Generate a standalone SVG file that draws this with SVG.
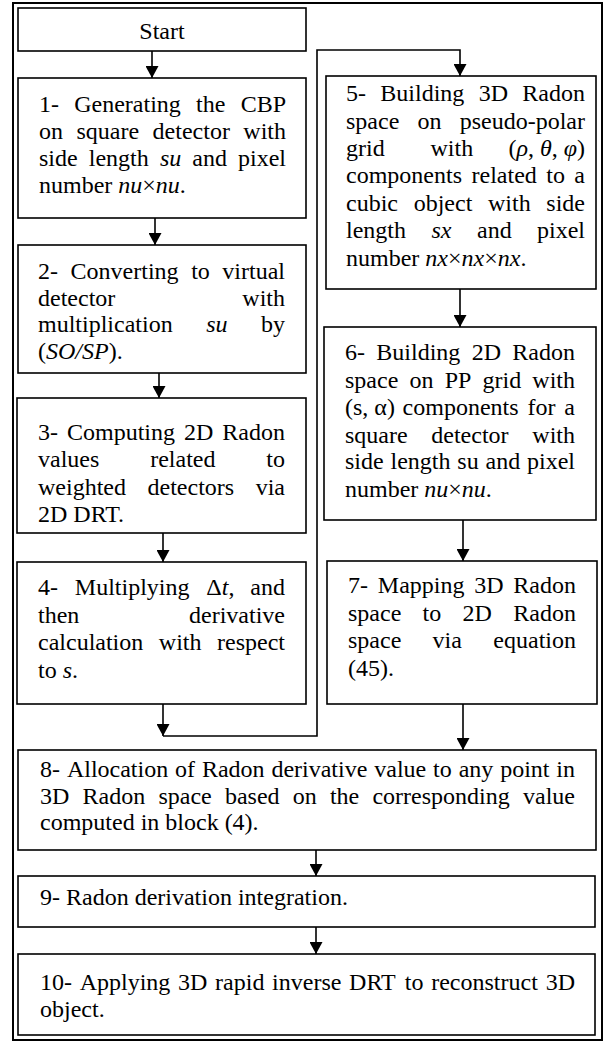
<svg xmlns="http://www.w3.org/2000/svg" width="612" height="1042" viewBox="0 0 612 1042">
<style>
text{font-family:"Liberation Serif","Times New Roman",serif;font-size:24px;fill:#000}
.i{font-style:italic}
.e{text-anchor:end}
.box{fill:#fff;stroke:#000;stroke-width:1.6}
.c{fill:none;stroke:#000;stroke-width:1.6}
</style>
<defs>
<marker id="ah" markerUnits="userSpaceOnUse" markerWidth="13" markerHeight="13" refX="12" refY="6.5" orient="auto"><path d="M0,0 L12,6.5 L0,13 z" fill="#000"/></marker>
</defs>
<rect x="0" y="0" width="612" height="1042" fill="#fff"/>
<rect x="13" y="3" width="589" height="1037" fill="none" stroke="#000" stroke-width="2"/>
<g id="connectors">
<line class="c" x1="152" y1="51" x2="152" y2="78" marker-end="url(#ah)"/>
<line class="c" x1="155" y1="218" x2="155" y2="245" marker-end="url(#ah)"/>
<line class="c" x1="159" y1="373" x2="159" y2="398" marker-end="url(#ah)"/>
<line class="c" x1="163" y1="533" x2="163" y2="562" marker-end="url(#ah)"/>
<line class="c" x1="163" y1="704" x2="163" y2="736" marker-end="url(#ah)"/>
<polyline class="c" points="163,736 317,736 317,50 460,50 460,76" marker-end="url(#ah)"/>
<line class="c" x1="460" y1="289" x2="460" y2="327" marker-end="url(#ah)"/>
<line class="c" x1="463" y1="520" x2="463" y2="561" marker-end="url(#ah)"/>
<line class="c" x1="463" y1="704" x2="463" y2="750" marker-end="url(#ah)"/>
<line class="c" x1="316" y1="850" x2="316" y2="876" marker-end="url(#ah)"/>
<line class="c" x1="316" y1="927" x2="316" y2="954" marker-end="url(#ah)"/>
</g>
<g id="start">
<rect class="box" x="18" y="8" width="288" height="43"/>
<text x="162" y="39" text-anchor="middle">Start</text>
</g>
<g id="n1">
<rect class="box" x="18" y="78" width="288" height="140"/>
<text y="112"><tspan x="39">1-</tspan><tspan x="74.2">Generating</tspan><tspan x="196.1">the</tspan><tspan x="286" class="e">CBP</tspan></text>
<text y="139"><tspan x="39">on</tspan><tspan x="76.5">square</tspan><tspan x="152.6">detector</tspan><tspan x="286" class="e">with</tspan></text>
<text y="166"><tspan x="39">side</tspan><tspan x="88.8">length</tspan><tspan x="159.9" class="i">su</tspan><tspan x="192.3">and</tspan><tspan x="286" class="e">pixel</tspan></text>
<text x="39" y="193">number <tspan class="i">nu</tspan>×<tspan class="i">nu</tspan>.</text>
</g>
<g id="n2">
<rect class="box" x="18" y="245" width="288" height="128"/>
<text y="279"><tspan x="38">2-</tspan><tspan x="70.6">Converting</tspan><tspan x="191.2">to</tspan><tspan x="285" class="e">virtual</tspan></text>
<text y="305.5"><tspan x="38">detector</tspan><tspan x="285" class="e">with</tspan></text>
<text y="332"><tspan x="38">multiplication</tspan><tspan x="206.2" class="i">su</tspan><tspan x="285" class="e">by</tspan></text>
<text x="38" y="358.5">(<tspan class="i">SO/SP</tspan>).</text>
</g>
<g id="n3">
<rect class="box" x="17" y="398" width="289" height="135"/>
<text y="440"><tspan x="38">3-</tspan><tspan x="67">Computing</tspan><tspan x="184">2D</tspan><tspan x="285" class="e">Radon</tspan></text>
<text y="467"><tspan x="38">values</tspan><tspan x="150.2">related</tspan><tspan x="285" class="e">to</tspan></text>
<text y="494.5"><tspan x="38">weighted</tspan><tspan x="147.5">detectors</tspan><tspan x="285" class="e">via</tspan></text>
<text x="38" y="522">2D DRT.</text>
</g>
<g id="n4">
<rect class="box" x="17" y="562" width="289" height="142"/>
<text y="595"><tspan x="38">4-</tspan><tspan x="74.8">Multiplying</tspan><tspan x="206.3">Δ<tspan class="i">t</tspan>,</tspan><tspan x="285" class="e">and</tspan></text>
<text y="622.5"><tspan x="38">then</tspan><tspan x="285" class="e">derivative</tspan></text>
<text y="650"><tspan x="38">calculation</tspan><tspan x="158.8">with</tspan><tspan x="285" class="e">respect</tspan></text>
<text x="38" y="678">to <tspan class="i">s</tspan>.</text>
</g>
<g id="n5">
<rect class="box" x="326" y="76" width="270" height="213"/>
<text y="101"><tspan x="346">5-</tspan><tspan x="380.3">Building</tspan><tspan x="478.7">3D</tspan><tspan x="585" class="e">Radon</tspan></text>
<text y="128.5"><tspan x="346">space</tspan><tspan x="417.5">on</tspan><tspan x="585" class="e">pseudo-polar</tspan></text>
<text y="156"><tspan x="346">grid</tspan><tspan x="430.5">with</tspan><tspan x="585" class="e">(<tspan class="i">ρ</tspan>, <tspan class="i">θ</tspan>, <tspan class="i">φ</tspan>)</tspan></text>
<text y="183"><tspan x="346">components</tspan><tspan x="471.5">related</tspan><tspan x="546.3">to</tspan><tspan x="585" class="e">a</tspan></text>
<text y="210.5"><tspan x="346">cubic</tspan><tspan x="413.7">object</tspan><tspan x="488">with</tspan><tspan x="585" class="e">side</tspan></text>
<text y="238"><tspan x="346">length</tspan><tspan x="431.5" class="i">sx</tspan><tspan x="477">and</tspan><tspan x="585" class="e">pixel</tspan></text>
<text x="346" y="265.5">number <tspan class="i">nx</tspan>×<tspan class="i">nx</tspan>×<tspan class="i">nx</tspan>.</text>
</g>
<g id="n6">
<rect class="box" x="324" y="327" width="272" height="193"/>
<text y="360"><tspan x="345">6-</tspan><tspan x="376.3">Building</tspan><tspan x="471.7">2D</tspan><tspan x="575" class="e">Radon</tspan></text>
<text y="387.5"><tspan x="345">space</tspan><tspan x="409.5">on</tspan><tspan x="444.7">PP</tspan><tspan x="482.5">grid</tspan><tspan x="575" class="e">with</tspan></text>
<text y="415"><tspan x="345">(s, α)</tspan><tspan x="402.6">components</tspan><tspan x="527.5">for</tspan><tspan x="575" class="e">a</tspan></text>
<text y="442.5"><tspan x="345">square</tspan><tspan x="431.3">detector</tspan><tspan x="575" class="e">with</tspan></text>
<text y="469"><tspan x="345">side</tspan><tspan x="390.5">length</tspan><tspan x="457.3">su</tspan><tspan x="485.5">and</tspan><tspan x="575" class="e">pixel</tspan></text>
<text x="345" y="496.5">number <tspan class="i">nu</tspan>×<tspan class="i">nu</tspan>.</text>
</g>
<g id="n7">
<rect class="box" x="327" y="561" width="270" height="143"/>
<text y="593"><tspan x="348">7-</tspan><tspan x="377.8">Mapping</tspan><tspan x="474.3">3D</tspan><tspan x="576" class="e">Radon</tspan></text>
<text y="620.5"><tspan x="348">space</tspan><tspan x="422.6">to</tspan><tspan x="462.6">2D</tspan><tspan x="576" class="e">Radon</tspan></text>
<text y="648"><tspan x="348">space</tspan><tspan x="432.6">via</tspan><tspan x="576" class="e">equation</tspan></text>
<text x="348" y="676">(45).</text>
</g>
<g id="n8">
<rect class="box" x="18" y="750" width="578" height="100"/>
<text y="777"><tspan x="40">8-</tspan><tspan x="66.9">Allocation</tspan><tspan x="175">of</tspan><tspan x="201.9">Radon</tspan><tspan x="271.4">derivative</tspan><tspan x="374.3">value</tspan><tspan x="433.1">to</tspan><tspan x="458.7">any</tspan><tspan x="500.2">point</tspan><tspan x="575" class="e">in</tspan></text>
<text y="803.5"><tspan x="40">3D</tspan><tspan x="82.5">Radon</tspan><tspan x="158.4">space</tspan><tspan x="224.9">based</tspan><tspan x="292.7">on</tspan><tspan x="329.9">the</tspan><tspan x="372.4">corresponding</tspan><tspan x="575" class="e">value</tspan></text>
<text x="40" y="830">computed in block (4).</text>
</g>
<g id="n9">
<rect class="box" x="18" y="876" width="577" height="51"/>
<text x="40" y="905">9- Radon derivation integration.</text>
</g>
<g id="n10">
<rect class="box" x="18" y="954" width="577" height="81"/>
<text y="990"><tspan x="40">10-</tspan><tspan x="79.7">Applying</tspan><tspan x="178.1">3D</tspan><tspan x="215.1">rapid</tspan><tspan x="272.1">inverse</tspan><tspan x="349.1">DRT</tspan><tspan x="404.8">to</tspan><tspan x="431.2">reconstruct</tspan><tspan x="575" class="e">3D</tspan></text>
<text x="40" y="1016.5">object.</text>
</g>
</svg>
